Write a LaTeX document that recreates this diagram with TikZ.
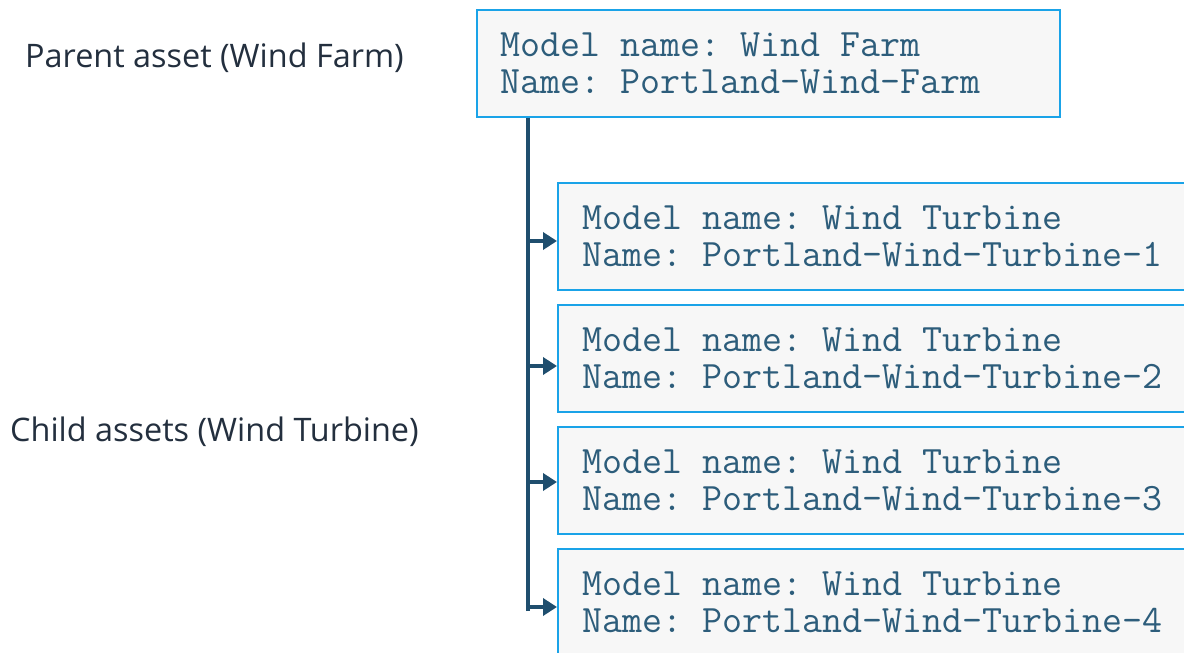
\documentclass[tikz,border=0pt]{standalone}
\usepackage{fontspec}
\setmainfont{Open Sans}
\usetikzlibrary{arrows.meta,positioning,calc}
\definecolor{boxfill}{HTML}{F7F7F7}
\definecolor{boxline}{HTML}{1AA3E8}
\definecolor{codetext}{HTML}{2D5D7B}
\definecolor{connector}{HTML}{1F4E6E}
\definecolor{labeltext}{HTML}{232F3E}
\newcommand{\codefont}{\ttfamily\fontsize{38.8}{36.5}\selectfont}
\newcommand{\csp}{\hspace*{20pt}}
\tikzset{
  assetbox/.style={draw=boxline, line width=1.6pt, fill=boxfill, rectangle,
    inner xsep=0pt, inner ysep=0pt, align=left, anchor=north west,
    font=\codefont, text=codetext},
  sidelabel/.style={anchor=west, font=\fontsize{32.4}{36}\selectfont, text=labeltext, inner sep=0pt},
  link/.style={draw=connector, line width=3.5pt},
  linkarrow/.style={link, -{Triangle[length=14pt,width=17pt]}}
}
\begin{document}
\begin{tikzpicture}[x=1pt,y=-1pt]
\useasboundingbox (0,0) rectangle (1184,653);
\clip (0,0) rectangle (1184,653);
\node[assetbox, minimum width=583pt, minimum height=107pt, text width=535pt] (farm) at (476,9)
  {Model\csp name:\csp Wind\csp Farm\\Name:\csp Portland-Wind-Farm};
\node[assetbox, minimum width=640pt, minimum height=107pt, text width=590pt] (t1) at (557,182)
  {Model\csp name:\csp Wind\csp Turbine\\Name:\csp Portland-Wind-Turbine-1};
\node[assetbox, minimum width=640pt, minimum height=107pt, text width=590pt] (t2) at (557,304)
  {Model\csp name:\csp Wind\csp Turbine\\Name:\csp Portland-Wind-Turbine-2};
\node[assetbox, minimum width=640pt, minimum height=107pt, text width=590pt] (t3) at (557,426)
  {Model\csp name:\csp Wind\csp Turbine\\Name:\csp Portland-Wind-Turbine-3};
\node[assetbox, minimum width=640pt, minimum height=107pt, text width=590pt] (t4) at (557,548)
  {Model\csp name:\csp Wind\csp Turbine\\Name:\csp Portland-Wind-Turbine-4};
\node[sidelabel] (parentlbl) at (25,58) {Parent asset (Wind Farm)};
\node[sidelabel] (childlbl) at (10,432) {Child assets (Wind Turbine)};
\coordinate (trunktop) at (528,116);
\coordinate (a1) at (528,241);
\coordinate (a2) at (528,366);
\coordinate (a3) at (528,482);
\coordinate (a4) at (528,607);
\draw[link] (trunktop |- farm.south) -- (a4);
\draw[linkarrow] (a1) -- (a1 -| t1.west);
\draw[linkarrow] (a2) -- (a2 -| t2.west);
\draw[linkarrow] (a3) -- (a3 -| t3.west);
\draw[linkarrow, line join=miter] ([yshift=-4pt]a4) -- (a4) -- (a4 -| t4.west);
\end{tikzpicture}
\end{document}
